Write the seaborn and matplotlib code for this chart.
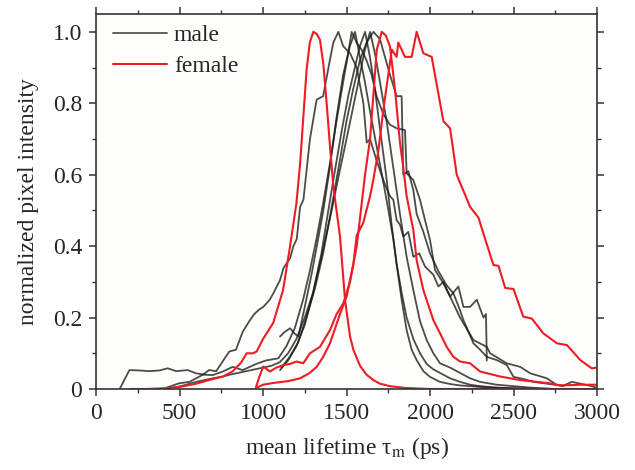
import numpy as np
import pandas as pd
import matplotlib
matplotlib.use("Agg")
import matplotlib.pyplot as plt
from matplotlib.lines import Line2D
from matplotlib.ticker import MultipleLocator
import seaborn as sns

# ─── DATA ────────────────────────────────────────────────
# male curves
m1_x = [399, 497, 560, 599, 640, 677, 720, 758, 798, 838, 878, 918, 948, 978, 1002, 1040, 1062, 1102, 1122,
        1162, 1182, 1202, 1222, 1242, 1281, 1321, 1360, 1400, 1421, 1451, 1480, 1521, 1561, 1601, 1621, 1641,
        1680, 1720, 1760, 1780, 1800, 1820, 1840, 1870, 1900, 1935, 1970, 2020, 2050, 2080, 2120, 2170, 2200,
        2240, 2280, 2320, 2335, 2340]
m1_y = [0.0, 0.016, 0.02, 0.03, 0.04, 0.053, 0.05, 0.077, 0.105, 0.11, 0.16, 0.19, 0.21, 0.223, 0.23, 0.25,
        0.268, 0.305, 0.338, 0.366, 0.40, 0.42, 0.51, 0.53, 0.70, 0.81, 0.82, 0.92, 0.97, 1.0, 0.96, 0.94, 0.90,
        0.80, 0.69, 0.70, 0.64, 0.585, 0.54, 0.53, 0.473, 0.46, 0.427, 0.44, 0.37, 0.38, 0.343, 0.32, 0.287,
        0.30, 0.259, 0.287, 0.23, 0.23, 0.25, 0.2, 0.21, 0.08]

m2_x = [144, 200, 260, 319, 380, 429, 480, 549, 599, 650, 699, 759, 818, 878, 958, 1018, 1092, 1140, 1190,
        1240, 1280, 1320, 1360, 1400, 1440, 1480, 1510, 1531, 1560, 1590, 1620, 1650, 1680, 1720, 1760, 1800,
        1850, 1860, 1900, 1940, 1970, 2000, 2030, 2080, 2120, 2180, 2260, 2340, 2360, 2460, 2540, 2600, 2700,
        2760, 2800, 2850, 2900, 2950, 2990]
m2_y = [0.002, 0.053, 0.052, 0.05, 0.052, 0.058, 0.05, 0.053, 0.044, 0.04, 0.039, 0.049, 0.062, 0.053, 0.07,
        0.08, 0.086, 0.12, 0.17, 0.25, 0.33, 0.42, 0.52, 0.63, 0.75, 0.86, 0.94, 1.0, 0.97, 0.95, 0.92, 0.88,
        0.82, 0.77, 0.74, 0.73, 0.725, 0.604, 0.585, 0.53, 0.473, 0.417, 0.333, 0.296, 0.259, 0.2, 0.137, 0.118,
        0.1, 0.072, 0.062, 0.044, 0.03, 0.011, 0.01, 0.02, 0.015, 0.01, 0.005]

m3_x = [1102, 1130, 1162, 1190, 1212, 1250, 1290, 1330, 1361, 1400, 1440, 1480, 1520, 1551, 1580, 1610, 1640,
        1680, 1720, 1751, 1780, 1800, 1830, 1860, 1900, 1940, 1980, 2020, 2060, 2120, 2180, 2240, 2300, 2400,
        2500, 2600]
m3_y = [0.147, 0.16, 0.17, 0.155, 0.147, 0.23, 0.32, 0.42, 0.50, 0.62, 0.76, 0.88, 0.96, 1.0, 0.93, 0.86, 0.78,
        0.68, 0.58, 0.50, 0.42, 0.35, 0.27, 0.20, 0.14, 0.10, 0.07, 0.055, 0.045, 0.03, 0.02, 0.012, 0.008, 0.004,
        0.002, 0.0]

m4_x = [1102, 1150, 1200, 1250, 1300, 1350, 1391, 1430, 1470, 1510, 1550, 1580, 1611, 1640, 1670, 1700, 1741,
        1770, 1800, 1830, 1860, 1890, 1920, 1960, 2000, 2060, 2120, 2180, 2240, 2350, 2500, 2700]
m4_y = [0.053, 0.08, 0.12, 0.18, 0.27, 0.38, 0.50, 0.61, 0.72, 0.82, 0.90, 0.96, 1.0, 0.93, 0.84, 0.73, 0.585,
        0.46, 0.35, 0.25, 0.165, 0.11, 0.081, 0.05, 0.034, 0.02, 0.014, 0.01, 0.008, 0.004, 0.002, 0.0]

m5_x = [420, 480, 540, 600, 650, 700, 760, 800, 850, 900, 950, 1000, 1050, 1100, 1150, 1200, 1250, 1300, 1350,
        1411, 1450, 1500, 1540, 1580, 1610, 1641, 1670, 1700, 1740, 1780, 1820, 1860, 1900, 1940, 1980, 2020,
        2060, 2120, 2180, 2240, 2300, 2400, 2500, 2600, 2750]
m5_y = [0.0, 0.005, 0.012, 0.02, 0.025, 0.03, 0.035, 0.04, 0.045, 0.05, 0.055, 0.06, 0.065, 0.075, 0.10, 0.14,
        0.20, 0.27, 0.37, 0.50, 0.59, 0.70, 0.79, 0.88, 0.95, 1.0, 0.94, 0.86, 0.75, 0.62, 0.49, 0.37, 0.277,
        0.19, 0.137, 0.10, 0.072, 0.06, 0.045, 0.03, 0.02, 0.012, 0.008, 0.004, 0.0]

m6_x = [1110, 1160, 1210, 1260, 1310, 1360, 1400, 1430, 1460, 1500, 1540, 1580, 1620, 1661, 1700, 1730, 1760,
        1800, 1830, 1840, 1870, 1900, 1920, 1960, 2000, 2050, 2100, 2140, 2180, 2200, 2260, 2300, 2340, 2400,
        2460, 2500, 2560, 2620, 2700, 2760, 2800]
m6_y = [0.06, 0.09, 0.13, 0.2, 0.28, 0.38, 0.48, 0.56, 0.64, 0.75, 0.84, 0.92, 0.97, 1.0, 0.98, 0.93, 0.88,
        0.82, 0.82, 0.6, 0.61, 0.557, 0.49, 0.44, 0.38, 0.33, 0.29, 0.268, 0.22, 0.193, 0.128, 0.11, 0.09,
        0.081, 0.067, 0.034, 0.028, 0.02, 0.015, 0.011, 0.008]

# female curves
f1_x = [204, 300, 400, 503, 600, 700, 760, 820, 870, 902, 940, 962, 1000, 1061, 1120, 1162, 1200, 1222, 1261,
        1280, 1301, 1320, 1341, 1361, 1381, 1401, 1421, 1461, 1491, 1521, 1541, 1581, 1620, 1661, 1700, 1760,
        1850, 2000, 2500, 3000]
f1_y = [0.0, 0.0, 0.002, 0.006, 0.015, 0.028, 0.035, 0.05, 0.075, 0.10, 0.10, 0.105, 0.14, 0.185, 0.277, 0.40,
        0.52, 0.63, 0.894, 0.97, 1.0, 0.995, 0.978, 0.91, 0.80, 0.68, 0.567, 0.427, 0.25, 0.147, 0.11, 0.065,
        0.04, 0.025, 0.015, 0.008, 0.003, 0.0, 0.0, 0.0]

f2_x = [958, 975, 1001, 1041, 1080, 1122, 1160, 1201, 1241, 1281, 1341, 1401, 1441, 1481, 1521, 1561, 1581,
        1611, 1641, 1681, 1711, 1735, 1760, 1790, 1820, 1840, 1860, 1900, 1920, 1960, 2020, 2060, 2100, 2140,
        2180, 2240, 2300, 2420, 2540, 2720, 2780, 2900, 3000]
f2_y = [0.005, 0.03, 0.063, 0.049, 0.06, 0.067, 0.07, 0.077, 0.072, 0.10, 0.118, 0.165, 0.21, 0.24, 0.30,
        0.40, 0.48, 0.60, 0.70, 0.95, 1.0, 0.99, 0.96, 0.84, 0.69, 0.62, 0.54, 0.445, 0.36, 0.277, 0.193, 0.156,
        0.118, 0.09, 0.077, 0.072, 0.049, 0.035, 0.025, 0.016, 0.01, 0.012, 0.012]

f3_x = [958, 1000, 1061, 1150, 1222, 1280, 1321, 1360, 1401, 1461, 1501, 1541, 1561, 1600, 1641, 1660, 1690,
        1720, 1771, 1800, 1810, 1850, 1890, 1920, 1960, 2010, 2080, 2120, 2160, 2240, 2290, 2330, 2380, 2410,
        2450, 2500, 2558, 2610, 2678, 2760, 2820, 2900, 2968, 3000]
f3_y = [0.003, 0.012, 0.017, 0.022, 0.03, 0.045, 0.062, 0.09, 0.128, 0.21, 0.26, 0.35, 0.43, 0.465, 0.54,
        0.585, 0.665, 0.78, 0.95, 0.93, 0.97, 0.93, 0.93, 1.0, 0.94, 0.93, 0.75, 0.73, 0.60, 0.51, 0.48, 0.42,
        0.347, 0.345, 0.283, 0.28, 0.203, 0.197, 0.156, 0.128, 0.123, 0.081, 0.058, 0.06]

male = [(m1_x, m1_y), (m2_x, m2_y), (m3_x, m3_y), (m4_x, m4_y), (m5_x, m5_y), (m6_x, m6_y)]
female = [(f1_x, f1_y), (f2_x, f2_y), (f3_x, f3_y)]

# ─── STYLE ────────────────────────────────────────────────
sns.set_theme(style="ticks")
plt.rcParams['font.family'] = ['Liberation Serif', 'DejaVu Serif']
plt.rcParams['mathtext.fontset'] = 'stix'

MALE_COLOR = (0.1, 0.1, 0.1, 0.78)
FEMALE_COLOR = '#ee1c24'
FS = 17

fig = plt.figure(figsize=(6.35, 4.70), dpi=100)
ax = fig.add_axes([0.1512, 0.1723, 0.7890, 0.7979])
ax.set_facecolor('#fdfdfb')

for xs, ys in male:
    df = pd.DataFrame({'x': xs, 'y': ys})
    sns.lineplot(data=df, x='x', y='y', ax=ax, color=MALE_COLOR, lw=1.3, sort=False, estimator=None)
for xs, ys in female:
    df = pd.DataFrame({'x': xs, 'y': ys})
    sns.lineplot(data=df, x='x', y='y', ax=ax, color=FEMALE_COLOR, lw=1.5, sort=False, estimator=None)

ax.set_xlim(0, 3000)
ax.set_ylim(0, 1.05)
ax.xaxis.set_major_locator(MultipleLocator(500))
ax.xaxis.set_minor_locator(MultipleLocator(250))
ax.yaxis.set_major_locator(MultipleLocator(0.2))
ax.yaxis.set_minor_locator(MultipleLocator(0.1))
ax.set_yticks([0, 0.2, 0.4, 0.6, 0.8, 1.0])
ax.set_yticklabels(['0', '0.2', '0.4', '0.6', '0.8', '1.0'])

ax.tick_params(which='both', direction='out', top=True, right=True, labelsize=FS, color='#333333')
ax.tick_params(which='major', length=5, width=1.1, pad=5)
ax.tick_params(which='minor', length=3, width=1.0)
for s in ax.spines.values():
    s.set_color('#333333')
    s.set_linewidth(1.2)

# upright tau like the original, subscript via mathtext
ax.set_xlabel('mean lifetime τ$_\\mathrm{m}$ (ps)', fontsize=FS, labelpad=8)
ax.set_ylabel('normalized pixel intensity', fontsize=FS, labelpad=10)

handles = [Line2D([], [], color='#555555', lw=1.3), Line2D([], [], color=FEMALE_COLOR, lw=1.5)]
ax.legend(handles, ['male', 'female'], loc='upper left', frameon=False, fontsize=FS,
          handlelength=2.3, handletextpad=0.3, labelspacing=0.4, borderaxespad=0.3,
          bbox_to_anchor=(0.0, 1.015))

fig.savefig('out.png', dpi=100)
